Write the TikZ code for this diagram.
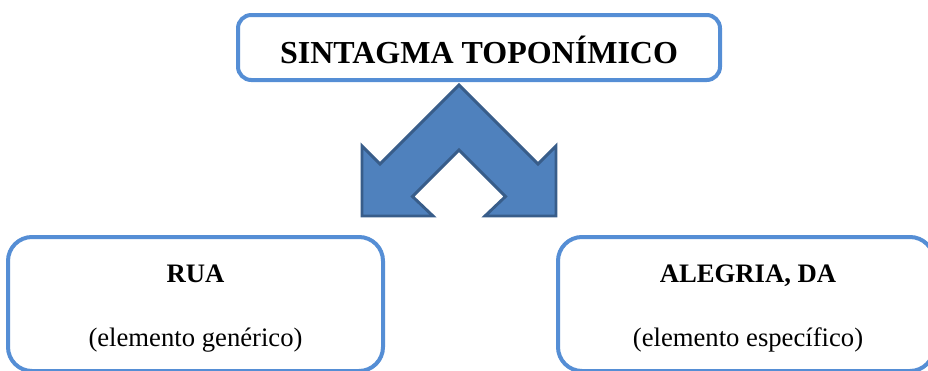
\documentclass[tikz,border=0pt]{standalone}
\usepackage{fontspec}
\setmainfont{Liberation Serif}
\usetikzlibrary{positioning}
\definecolor{boxblue}{RGB}{85,142,213}
\definecolor{arrowfill}{RGB}{79,129,189}
\definecolor{arrowline}{RGB}{56,93,138}

\begin{document}
\begin{tikzpicture}[x=0.75pt, y=-0.75pt]
    \tikzstyle{frame}=[draw=boxblue, line width=3pt, inner sep=0pt, fill=white];
    \tikzstyle{word}=[anchor=base, inner sep=0pt, font=\fontsize{20}{24}\selectfont];

    \useasboundingbox (0,0) rectangle (928,371);
    \clip (0,0) rectangle (928,371);

    % title box
    \node[frame, rounded corners=10pt, minimum width=361.5pt, minimum height=48.75pt,
          text height=23.25pt, text depth=0pt, font=\fontsize{24}{28}\selectfont\bfseries]
          (title) at (479,47.5) {SINTAGMA TOPONÍMICO};

    % split arrow
    \begin{scope}[shift={(459,0)}]
        \draw[fill=arrowfill, draw=arrowline, line width=2.2pt, line join=miter]
            (0,85) -- (79,164) -- (97,146) -- (97,216) -- (26,216) -- (46.5,196.5)
            -- (0,150) -- (-46.5,196.5) -- (-26,216) -- (-97,216) -- (-97,146)
            -- (-79,164) -- cycle;
    \end{scope}

    % lower boxes
    \node[frame, rounded corners=18pt, minimum width=281.25pt, minimum height=100.5pt]
          (generic) at (195.5,304) {};
    \node[frame, rounded corners=18pt, minimum width=282pt, minimum height=100.5pt]
          (specific) at (746,304) {};

    \node[word, font=\fontsize{20}{24}\selectfont\bfseries] (rua) at (195.5,282) {RUA};
    \node[word] (generictext) at (195.5,346) {(elemento genérico)};
    \node[word, font=\fontsize{20}{24}\selectfont\bfseries] (alegria) at (748,282) {ALEGRIA, DA};
    \node[word] (specifictext) at (748,346) {(elemento específico)};
\end{tikzpicture}
\end{document}
